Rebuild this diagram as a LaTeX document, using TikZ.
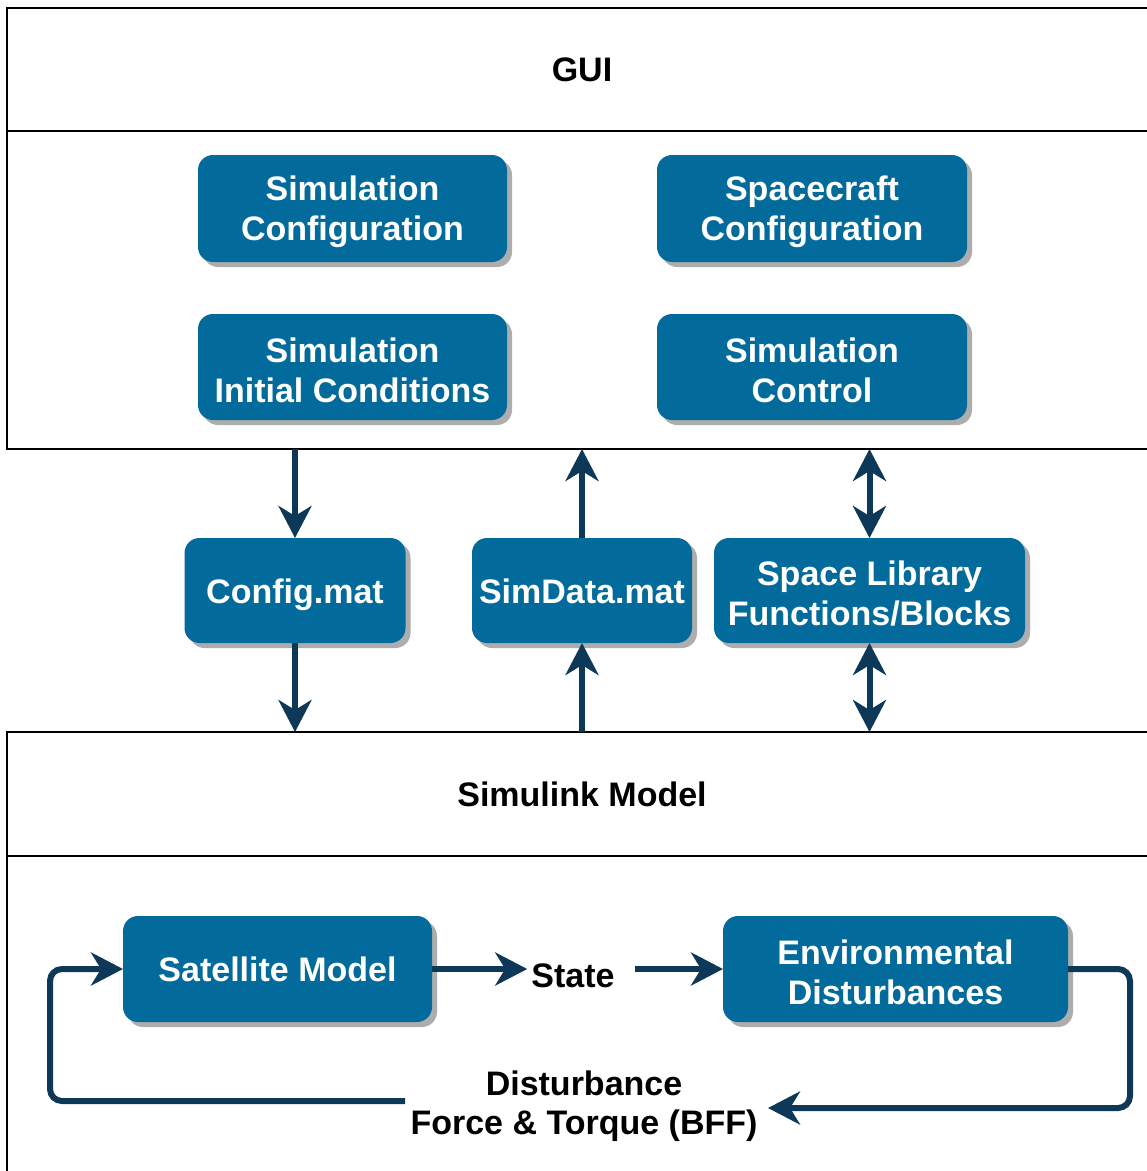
\documentclass[tikz,border=0pt]{standalone}
\usepackage{fontspec}
\setmainfont{Liberation Sans}
\usetikzlibrary{arrows.meta,shadows,calc}
\definecolor{boxblue}{RGB}{3,107,155}
\definecolor{arrowblue}{RGB}{14,56,88}
\newcommand\topstrut{\rule{0pt}{31pt}}
\tikzset{
  panel/.style={draw=black, line width=2pt, inner sep=0pt, outer sep=0pt, minimum width=1150pt, anchor=north west, font=\fontsize{34}{40}\selectfont\bfseries},
  bluebox/.style={fill=boxblue, rounded corners=15pt, inner sep=0pt, outer sep=0pt, text=white, align=center,
     font=\fontsize{34}{40}\selectfont\bfseries,
     drop shadow={shadow xshift=5pt, shadow yshift=-5pt, fill=black!40, opacity=0.8}},
  oneline/.style={text height=25pt, text depth=0pt},
  flow/.style={draw=arrowblue, line width=6pt, -{Stealth[length=32pt,width=33pt,inset=10pt]}},
  bflow/.style={draw=arrowblue, line width=6pt, {Stealth[length=32pt,width=33pt,inset=10pt]}-{Stealth[length=32pt,width=33pt,inset=10pt]}},
  lbl/.style={font=\fontsize{34}{39}\selectfont\bfseries, align=center, inner sep=0pt}
}
\begin{document}
\begin{tikzpicture}[x=1pt,y=-1pt]
\clip (0,0) rectangle (1147,1171);
\fill[white] (0,0) rectangle (1147,1171);
% panels
\node[panel, minimum height=123pt] (guititle) at (7,8) {GUI};
\node[panel, minimum height=318pt] (guibody) at (7,131) {};
\node[panel, minimum height=124pt] (simtitle) at (7,732) {Simulink Model};
\node[panel, minimum height=330pt] (simbody) at (7,856) {};
% GUI boxes
\node[bluebox, minimum width=309pt, minimum height=107pt] (simconf) at (352.5,208.5) {\topstrut Simulation\\Configuration};
\node[bluebox, minimum width=310pt, minimum height=107pt] (scconf) at (812,208.5) {\topstrut Spacecraft\\Configuration};
\node[bluebox, minimum width=309pt, minimum height=106pt] (siminit) at (352.5,367) {\topstrut Simulation\\Initial Conditions};
\node[bluebox, minimum width=310pt, minimum height=106pt] (simctrl) at (812,367) {\topstrut Simulation\\Control};
% middle boxes
\node[bluebox, oneline, minimum width=221pt, minimum height=105pt] (config) at (295,590.5) {Config.mat};
\node[bluebox, oneline, minimum width=220pt, minimum height=105pt] (simdata) at (582,590.5) {SimData.mat};
\node[bluebox, minimum width=311pt, minimum height=105pt] (spacelib) at (869.5,590.5) {\topstrut Space Library\\Functions/Blocks};
% simulink boxes
\node[bluebox, oneline, minimum width=309pt, minimum height=106pt] (sat) at (277.5,969) {Satellite Model};
\node[bluebox, minimum width=345pt, minimum height=106pt] (env) at (895.5,969) {\topstrut Environmental\\Disturbances};
\node[lbl] (state) at (573,976) {State};
\node[lbl] (dist) at (584,1106) {Disturbance\\Force \& Torque (BFF)};
\coordinate (fbR) at (768,1108);
\coordinate (fbL) at (405,1101);
% vertical connectors
\draw[flow] (guibody.south -| config.north) -- (config.north);
\draw[flow] (config.south) -- (simtitle.north -| config.south);
\draw[flow] (simdata.north) -- (guibody.south -| simdata.north);
\draw[flow] (simtitle.north -| simdata.south) -- (simdata.south);
\draw[bflow] (guibody.south -| spacelib.north) -- (spacelib.north);
\draw[bflow] (spacelib.south) -- (simtitle.north -| spacelib.south);
% loop
\draw[flow] (sat.east) -- ([xshift=-4pt]state.west |- sat.east);
\draw[flow] ([xshift=20pt]state.east |- env.west) -- (env.west);
\draw[flow, rounded corners=12pt] (env.east) -- ([xshift=62pt]env.east) |- (fbR);
\draw[flow, rounded corners=12pt] (fbL) -| ([xshift=-73pt]sat.west) -- (sat.west);
\end{tikzpicture}
\end{document}
